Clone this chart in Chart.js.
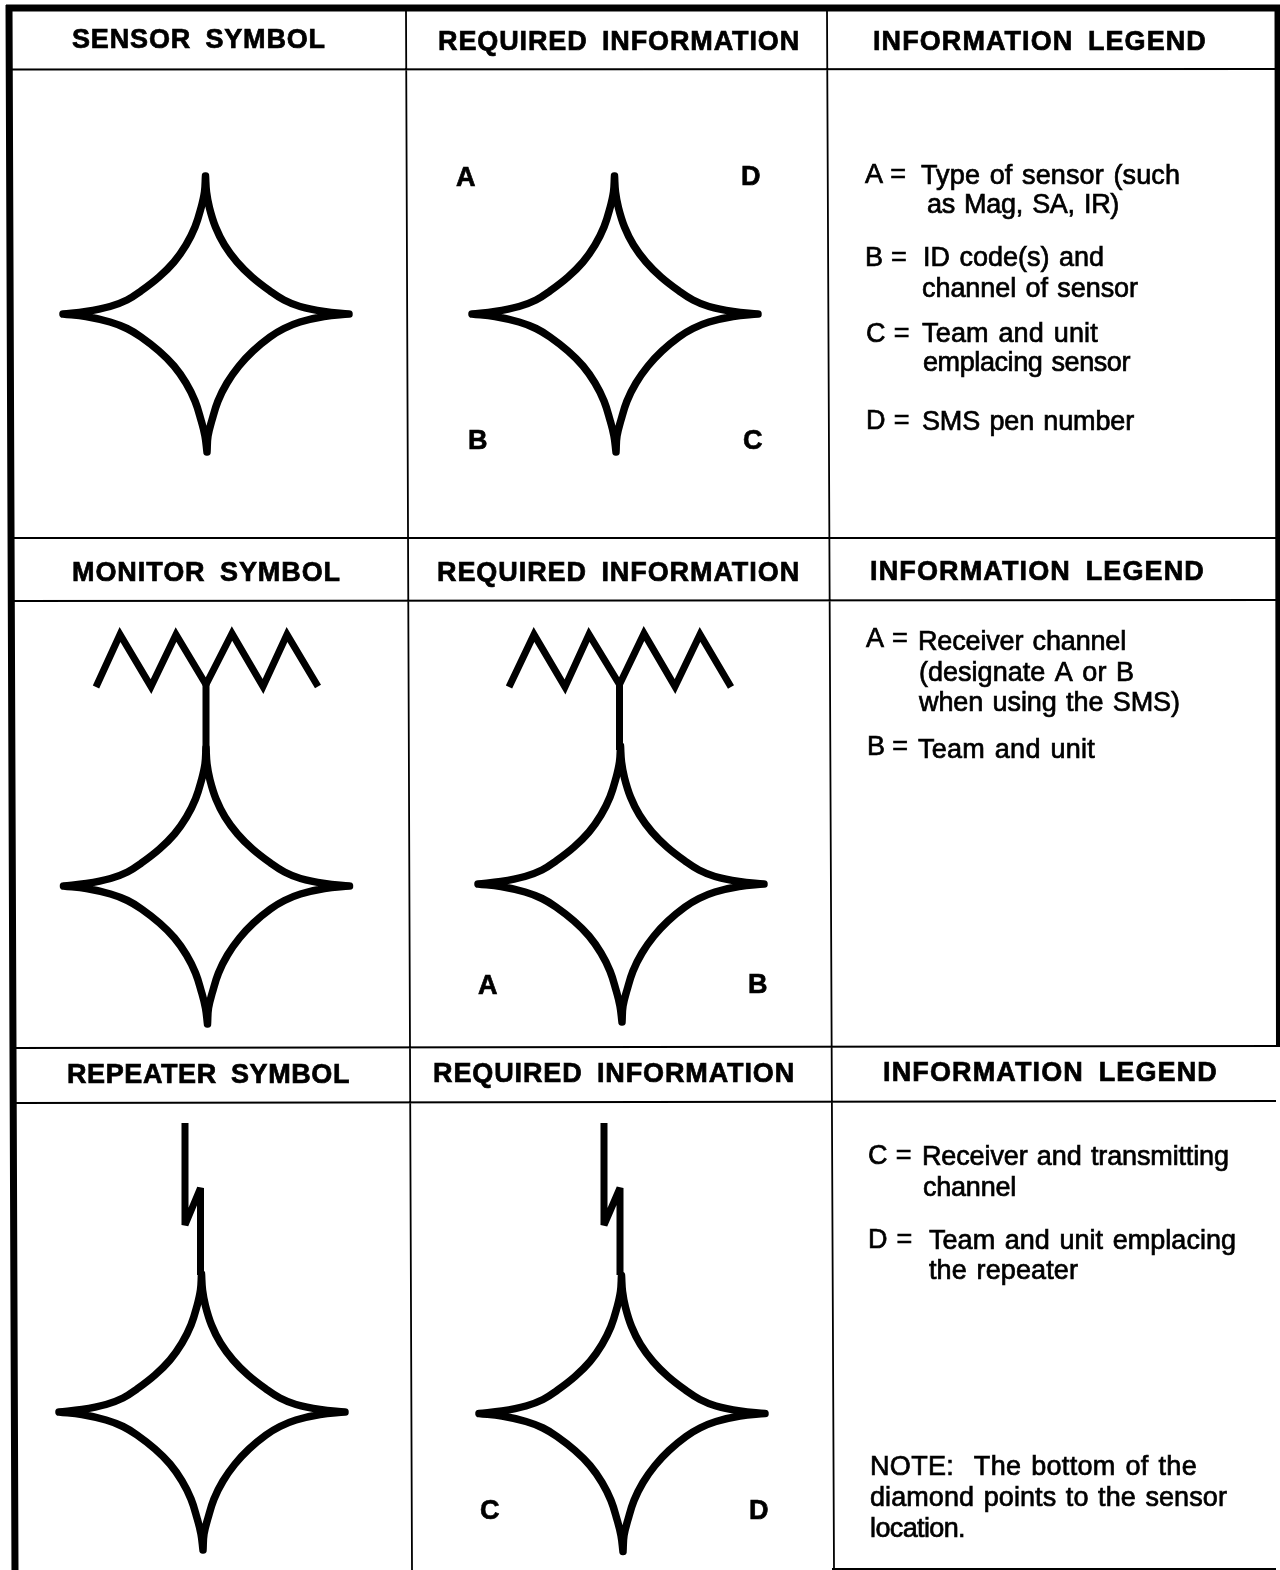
<!DOCTYPE html>
<html>
<head>
<meta charset="utf-8">
<title>Sensor symbols</title>
<script src="https://cdn.jsdelivr.net/npm/chart.js@4/dist/chart.umd.min.js"></script>
<style>
  html, body { margin: 0; padding: 0; background: #fff; }
  canvas { display: block; }
</style>
</head>
<body>
<canvas id="symbolChart" width="1280" height="1570"></canvas>
<script>
// picture coordinates
const diamondX = [-0.5, 0.5, 3.5, 9.5, 18.5, 31, 46, 64, 78, 94, 118, 143, null,
  143, 118, 94, 78, 64, 47, 33, 21, 12, 6, 2, 1, null,
  1, -1, -5, -11, -20, -32, -47, -65, -79, -96, -120, -143, null,
  -143, -120, -96, -79, -65, -47, -32, -20, -11, -5, -1.5, -0.5];
const diamondY = [-138, -122, -106, -87, -69, -52, -37, -23, -14, -7.5, -2.5, 0, null,
  0, 2.5, 8, 14.5, 23, 37, 52, 69, 87, 106, 122, 138, null,
  138, 122, 106, 87, 69, 52, 37, 23, 14.5, 8, 2.5, 0, null,
  0, -2.5, -7.5, -14, -23, -37, -52, -69, -87, -106, -122, -138];
const diamondCentreX = [206, 615, 206.5, 621, 202, 622];
const diamondCentreY = [314, 314, 886, 884, 1412, 1413.5];

const monitorLeftX = [96, 120, 151, 176, 206, 232, 263, 287, 318];
const monitorLeftY = [687, 634.5, 686.5, 634.5, 684.5, 633.5, 686.5, 634.5, 686.5];
const monitorRightX = [509, 534, 565, 589, 619.5, 644, 675, 700, 731];
const monitorRightY = [687, 634.5, 687, 634.5, 684.5, 633.5, 686.5, 634.5, 687];
const stemX = [206, 206, null, 619.5, 619.5];
const stemY = [684, 752, null, 684, 750];

const boltLeftX = [185, 185, 200.5, 200.5];
const boltLeftY = [1123, 1225, 1188, 1275];
const boltRightX = [604, 604, 620, 620];
const boltRightY = [1123, 1225, 1188, 1275];

const frameX = [9, 15, null, 6, 1280, null, 1278, 1279.5];
const frameY = [5, 1570, null, 8, 8, null, 8, 1047];
const ruleX = [12, 1276, null, 12, 1276, null, 13, 1276, null, 14, 1276, null, 15, 1276, null, 832, 1276, null, 406, 412, null, 827, 834];
const ruleY = [69.5, 69, null, 538, 538, null, 601, 600, null, 1048, 1046, null, 1103, 1101, null, 1569, 1569, null, 10, 1570, null, 10, 1570];

const headings = ['SENSOR SYMBOL', 'REQUIRED INFORMATION', 'INFORMATION LEGEND', 'MONITOR SYMBOL', 'REQUIRED INFORMATION', 'INFORMATION LEGEND', 'REPEATER SYMBOL', 'REQUIRED INFORMATION', 'INFORMATION LEGEND'];
const headingLeft = [72, 438, 873, 72, 437, 870, 67, 433, 883];
const headingRight = [326, 800, 1207, 341, 800, 1205, 350, 795, 1218];
const headingBase = [48, 50, 50, 581, 581, 580, 1083, 1082, 1081];

const tags = ['A', 'D', 'B', 'C', 'A', 'B', 'C', 'D'];
const tagLeft = [456, 741, 468, 743, 478, 748, 480, 749];
const tagRight = [475, 761, 486, 763, 497, 767, 500, 769];
const tagBase = [186, 185, 449, 449, 994, 993, 1519, 1519];

const notes = ['A =', 'Type of sensor (such', 'as Mag, SA, IR)', 'B =', 'ID code(s) and', 'channel of sensor', 'C =', 'Team and unit', 'emplacing sensor', 'D =', 'SMS pen number',
  'A =', 'Receiver channel', '(designate A or B', 'when using the SMS)', 'B =', 'Team and unit',
  'C =', 'Receiver and transmitting', 'channel', 'D =', 'Team and unit emplacing', 'the repeater',
  'NOTE:  The bottom of the', 'diamond points to the sensor', 'location.'];
const noteLeft = [865, 921, 927, 865, 923, 922, 866, 922, 923, 866, 922,
  866, 918, 919, 919, 867, 918,
  868, 922, 923, 868, 929, 929,
  870, 870, 870];
const noteRight = [905, 1180, 1119, 906, 1104, 1138, 909, 1098, 1130, 909, 1134,
  907, 1126, 1134, 1180, 907, 1095,
  911, 1229, 1016, 912, 1236, 1078,
  1197, 1227, 965];
const noteBase = [183, 184, 213, 266, 266, 297, 342, 342, 371, 429, 430,
  647, 650, 681, 711, 755, 758,
  1164, 1165, 1196, 1248, 1249, 1279,
  1475, 1506, 1537];

function toPoints(xs, ys) {
  return xs.map((x, i) => ({ x: x, y: ys[i] }));
}

function lineSet(label, xs, ys, width, extra) {
  return Object.assign({
    label: label,
    data: toPoints(xs, ys),
    showLine: true,
    borderColor: '#000',
    borderWidth: width,
    pointRadius: 0,
    tension: 0,
    borderCapStyle: 'butt',
    borderJoinStyle: 'miter',
  }, extra);
}

const diamondSets = diamondCentreX.map((cx, n) => lineSet(
  'Diamond ' + (n + 1),
  diamondX.map(x => x === null ? null : x + cx),
  diamondY.map(y => y === null ? null : y + diamondCentreY[n]),
  7.5,
  { tension: 0.4, borderCapStyle: 'round', borderJoinStyle: 'round' }
));

// draws the table wording at data positions, stretched to the width
const wordingPlugin = {
  id: 'wording',
  afterDatasetsDraw(chart) {
    const { ctx, scales } = chart;
    const put = (texts, lefts, rights, bases, font, gap) => {
      texts.forEach((text, i) => {
        const x0 = scales.x.getPixelForValue(lefts[i]);
        const x1 = scales.x.getPixelForValue(rights[i]);
        const y = scales.y.getPixelForValue(bases[i]);
        ctx.font = font;
        ctx.wordSpacing = gap;
        ctx.letterSpacing = '0px';
        const spare = (x1 - x0 - ctx.measureText(text).width) / text.length;
        ctx.letterSpacing = spare.toFixed(2) + 'px';
        ctx.fillText(text, x0, y);
        ctx.strokeText(text, x0, y);
      });
    };
    ctx.save();
    ctx.fillStyle = '#000';
    ctx.strokeStyle = '#000';
    ctx.lineWidth = 0.7;
    ctx.textBaseline = 'alphabetic';
    ctx.textAlign = 'left';
    put(headings, headingLeft, headingRight, headingBase, 'bold 27px "Liberation Sans"', '6px');
    put(tags, tagLeft, tagRight, tagBase, 'bold 27px "Liberation Sans"', '0px');
    put(notes, noteLeft, noteRight, noteBase, '27px "Liberation Sans"', '2px');
    ctx.restore();
  }
};

new Chart(document.getElementById('symbolChart').getContext('2d'), {
  type: 'scatter',
  data: {
    datasets: [
      lineSet('Frame', frameX, frameY, 7),
      lineSet('Rules', ruleX, ruleY, 1.8),
      ...diamondSets,
      lineSet('Monitor left', monitorLeftX, monitorLeftY, 7),
      lineSet('Monitor right', monitorRightX, monitorRightY, 7),
      lineSet('Monitor stems', stemX, stemY, 7),
      lineSet('Repeater left', boltLeftX, boltLeftY, 7, { borderJoinStyle: 'bevel' }),
      lineSet('Repeater right', boltRightX, boltRightY, 7, { borderJoinStyle: 'bevel' }),
    ]
  },
  options: {
    responsive: false,
    animation: false,
    layout: { padding: 0 },
    plugins: {
      legend: { display: false },
      tooltip: { enabled: false },
    },
    scales: {
      x: { type: 'linear', min: 0, max: 1280, display: false },
      y: { type: 'linear', min: 0, max: 1570, reverse: true, display: false },
    }
  },
  plugins: [wordingPlugin]
});
</script>
</body>
</html>
